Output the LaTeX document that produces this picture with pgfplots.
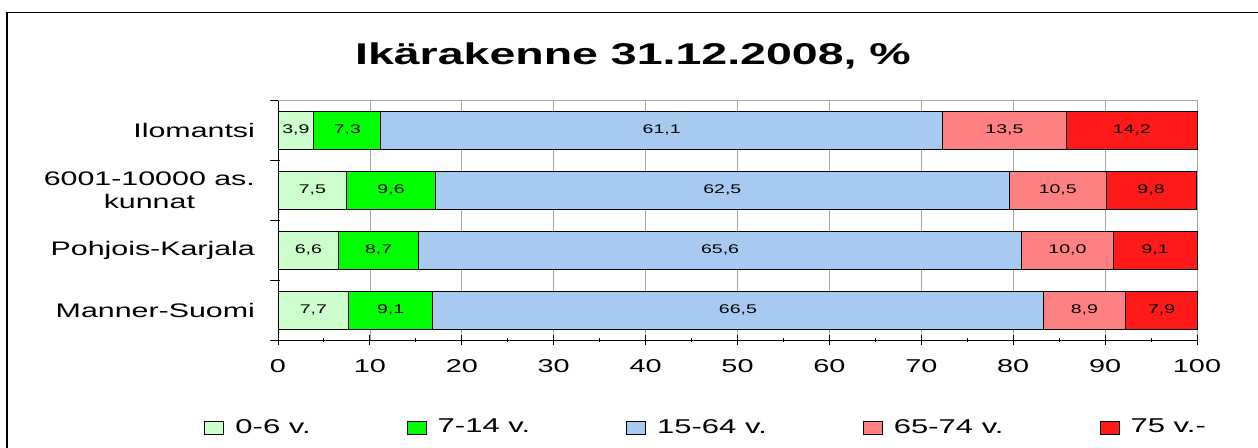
\documentclass[border=0pt]{standalone}
\usepackage{fontspec}
\setmainfont{Liberation Sans}[FakeStretch=1.55]
\usepackage{pgfplots}
\usepackage{pgfplotstable}
\pgfplotsset{compat=1.18}
\definecolor{cA}{HTML}{CCFFCC}
\definecolor{cB}{HTML}{00FF00}
\definecolor{cC}{HTML}{A6CAF0}
\definecolor{cD}{HTML}{FF8080}
\definecolor{cE}{HTML}{FF1A1A}
\pgfplotstableread{
y a b c d e
3 3.9 7.3 61.1 13.5 14.2
2 7.5 9.6 62.5 10.5 9.8
1 6.6 8.7 65.6 10.0 9.1
0 7.7 9.1 66.5 8.9 7.9
}\datatable
\begin{document}
\begin{tikzpicture}
\useasboundingbox (0,0) rectangle (629pt,-223.5pt);
\draw[line width=0.9pt] (3.6pt,-6.2pt) -- (640pt,-6.2pt);
\draw[line width=0.9pt] (3.6pt,-6.2pt) -- (3.6pt,-240pt);
\node[font=\bfseries\fontsize{15}{18}\selectfont] at (316.5pt,-28pt) {Ikärakenne 31.12.2008, \%};
\begin{axis}[
  at={(139pt,-170pt)}, anchor=south west,
  scale only axis, width=459.5pt, height=120pt,
  xbar stacked,
  bar width=0.633,
  xmin=0, xmax=100, ymin=-0.5, ymax=3.5,
  clip=false,
  axis x line*=bottom, axis y line*=left,
  axis line style={black, line width=0.5pt},
  xtick={0,10,...,100},
  minor x tick num=1,
  x tick style={black, line width=0.5pt},
  tick align=center,
  major tick length=5pt, minor tick length=2pt,
  xmajorgrids, major grid style={gray!70, line width=0.4pt},
  ytick={-0.5,0.5,1.5,2.5,3.5}, yticklabels={},
  y tick style={black, line width=0.5pt, xshift=-1.5pt},
  extra y ticks={0,1,2,3},
  extra y tick labels={Manner-Suomi, Pohjois-Karjala, {6001-10000 as.\\kunnat}, Ilomantsi},
  extra y tick style={tick style={draw=none}, grid=none},
  yticklabel style={align=center, font=\fontsize{9.8}{11.5}\selectfont, xshift=-5.5pt},
  xticklabel style={font=\fontsize{9.3}{11}\selectfont, yshift=-3.5pt},
  /pgf/number format/assume math mode=true,
  visualization depends on=rawx\as\segval,
  nodes near coords={\pgfmathprintnumber[fixed, fixed zerofill, precision=1, use comma, assume math mode=true]{\segval}},
  every node near coord/.append style={font=\fontsize{6.3}{7}\selectfont, anchor=center, black},
  legend columns=5,
  legend style={draw=none, at={(0.467,-0.365)}, anchor=center, font=\fontsize{10}{12}\selectfont,
    /tikz/every even column/.append style={column sep=46pt},
    /tikz/every odd column/.append style={column sep=3.5pt}},
  legend image code/.code={\draw[#1, draw=black, line width=0.5pt] (0pt,-3.25pt) rectangle (9.5pt,3.25pt);},
  after end axis/.code={\draw[gray!70, line width=0.4pt] (rel axis cs:0,1) -- (rel axis cs:1,1);},
]
\addplot[fill=cA, draw=black, line width=0.5pt] table[x=a, y=y] {\datatable};
\addplot[fill=cB, draw=black, line width=0.5pt] table[x=b, y=y] {\datatable};
\addplot[fill=cC, draw=black, line width=0.5pt] table[x=c, y=y] {\datatable};
\addplot[fill=cD, draw=black, line width=0.5pt] table[x=d, y=y] {\datatable};
\addplot[fill=cE, draw=black, line width=0.5pt] table[x=e, y=y] {\datatable};
\legend{0-6 v., 7-14 v., 15-64 v., 65-74 v., 75 v.-}
\end{axis}
\end{tikzpicture}
\end{document}
